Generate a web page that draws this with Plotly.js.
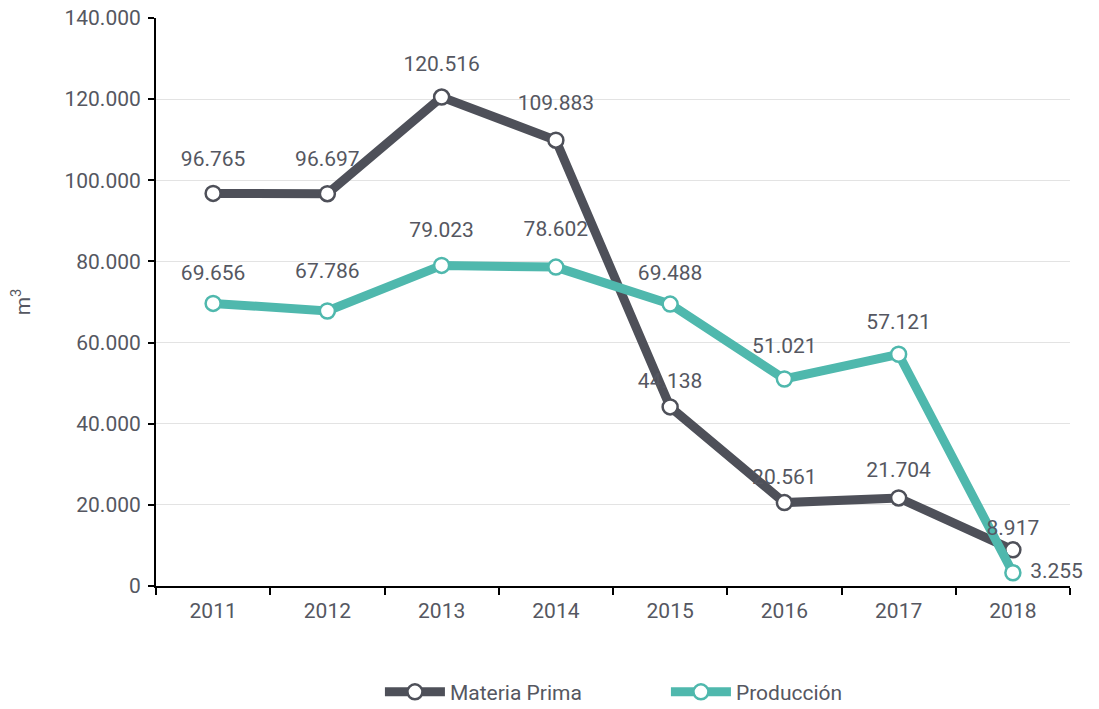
<!DOCTYPE html>
<html>
<head>
<meta charset="utf-8">
<script src="https://cdn.plot.ly/plotly-3.0.1.min.js"></script>
<style>html,body{margin:0;padding:0;background:#fff}#chart{width:1099px;height:709px}</style>
</head>
<body>
<div id="chart"></div>
<script>
const years = ['2011','2012','2013','2014','2015','2016','2017','2018'];
const materiaPrima = [96765, 96697, 120516, 109883, 44138, 20561, 21704, 8917];
const produccion = [69656, 67786, 79023, 78602, 69488, 51021, 57121, 3255];
const seriesNames = ['Materia Prima', 'Producción'];
const yTickVals = [0, 20000, 40000, 60000, 80000, 100000, 120000, 140000];

const dark = '#4e5059';
const teal = '#4fb8ad';
const textCol = '#555761';
const font = 'Roboto, sans-serif';
const fs = 21;

// label styling: invisible spacer marker sizes control the label gap
const mpLabelSize = [34, 34, 32, 38, 20, 20, 24, 14];
const mpLabelPos = ['top center','top center','top center','top center','top center','top center','top center','top center'];
const prLabelSize = [28, 42, 36, 40, 28, 32, 30, 26];
const prLabelPos = ['top center','top center','top center','top center','top center','top center','top center','middle right'];

function lineTrace(y, name, color) {
  return {
    x: years, y: y, name: name, type: 'scatter', mode: 'lines+markers',
    line: {color: color, width: 9},
    marker: {size: 15, color: '#ffffff', line: {color: color, width: 2.5}},
    cliponaxis: false
  };
}
function labelTrace(y, name, sizes, positions) {
  return {
    x: years, y: y, name: name, type: 'scatter', mode: 'markers+text',
    showlegend: false, hoverinfo: 'skip',
    marker: {size: sizes, color: 'rgba(0,0,0,0)', line: {width: 0}},
    texttemplate: '%{y:,d}', textposition: positions,
    textfont: {family: font, size: fs, color: textCol},
    cliponaxis: false
  };
}

const traces = [
  lineTrace(materiaPrima, seriesNames[0], dark),
  lineTrace(produccion, seriesNames[1], teal),
  labelTrace(materiaPrima, seriesNames[0], mpLabelSize, mpLabelPos),
  labelTrace(produccion, seriesNames[1], prLabelSize, prLabelPos)
];

const layout = {
  width: 1099, height: 709,
  margin: {l: 156, r: 29, t: 18, b: 123, autoexpand: false},
  paper_bgcolor: '#fff', plot_bgcolor: '#fff',
  separators: ',.',
  font: {family: font, size: fs, color: textCol},
  showlegend: true,
  legend: {
    orientation: 'h', x: 0.245, xanchor: 'left', y: -0.187, yanchor: 'middle',
    font: {family: font, size: fs, color: textCol},
    itemwidth: 60, entrywidth: 211, entrywidthmode: 'pixels', tracegroupgap: 0
  },
  xaxis: {
    type: 'category', range: [-0.5, 7.5],
    showline: true, linecolor: '#000', linewidth: 2,
    ticks: 'outside', tickson: 'boundaries', ticklen: 7, tickwidth: 2, tickcolor: '#000',
    ticklabelstandoff: 5,
    showgrid: false, zeroline: false,
    tickfont: {family: font, size: fs, color: textCol}
  },
  yaxis: {
    range: [0, 140000], tickvals: yTickVals, tickformat: ',d',
    showline: true, linecolor: '#000', linewidth: 2,
    ticks: 'outside', ticklen: 6, tickwidth: 2, tickcolor: '#000',
    ticklabelstandoff: 3,
    showgrid: true, gridcolor: '#e3e3e3', gridwidth: 1, zeroline: false,
    tickfont: {family: font, size: fs, color: textCol},
    title: {text: 'm<sup>3</sup>', font: {family: font, size: fs, color: textCol}, standoff: 28}
  }
};

Plotly.newPlot('chart', traces, layout, {displayModeBar: false});
</script>
</body>
</html>
